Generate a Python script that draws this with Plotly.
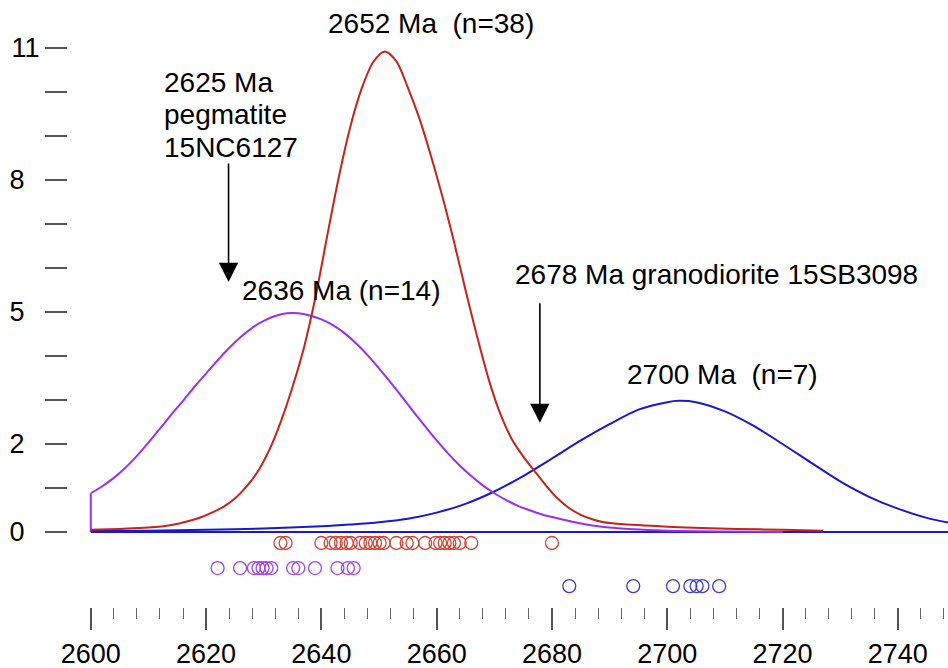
import plotly.graph_objects as go

# ---------------- data ----------------
# Probability density curves (age in Ma, relative probability)
red_x = [2600, 2605, 2610, 2614, 2617, 2619, 2621, 2623, 2625, 2627, 2629, 2631, 2633,
         2635, 2637, 2639, 2641, 2643, 2645, 2647, 2649, 2651, 2653, 2655, 2657, 2659,
         2661, 2663, 2665, 2667, 2669, 2671, 2673, 2675, 2677, 2679, 2681, 2683, 2685,
         2687, 2689, 2692, 2696, 2700, 2706, 2712, 2720, 2727]
red_y = [0.05, 0.07, 0.10, 0.16, 0.25, 0.33, 0.44, 0.57, 0.76, 1.03, 1.38, 1.87, 2.52,
         3.30, 4.20, 5.35, 6.72, 8.05, 9.20, 10.08, 10.68, 10.92, 10.70, 10.10, 9.40, 8.55,
         7.62, 6.60, 5.50, 4.45, 3.48, 2.70, 2.12, 1.72, 1.38, 1.05, 0.76, 0.54, 0.39,
         0.29, 0.22, 0.18, 0.15, 0.12, 0.09, 0.07, 0.05, 0.03]

purple_x = [2600, 2602, 2604, 2606, 2608, 2610, 2612, 2614, 2616, 2618, 2620, 2622, 2624,
            2626, 2628, 2630, 2632, 2634, 2636, 2638, 2640, 2642, 2644, 2646, 2648, 2650,
            2652, 2654, 2656, 2658, 2660, 2662, 2664, 2666, 2668, 2670, 2672, 2674, 2676,
            2678, 2680, 2682, 2684, 2686, 2688, 2690, 2694, 2700, 2710, 2720]
purple_y = [0.88, 1.04, 1.23, 1.46, 1.73, 2.03, 2.35, 2.67, 2.98, 3.30, 3.60, 3.90, 4.18,
            4.43, 4.64, 4.80, 4.91, 4.97, 4.97, 4.92, 4.83, 4.70, 4.52, 4.29, 4.02, 3.72,
            3.40, 3.07, 2.73, 2.40, 2.08, 1.78, 1.51, 1.27, 1.06, 0.88, 0.73, 0.60, 0.50,
            0.41, 0.34, 0.28, 0.22, 0.17, 0.13, 0.10, 0.06, 0.03, 0.01, 0.0]

blue_x = [2600, 2610, 2620, 2630, 2640, 2645, 2650, 2655, 2660, 2665, 2670, 2675, 2680,
          2685, 2690, 2695, 2700, 2702, 2705, 2710, 2715, 2720, 2725, 2730, 2735, 2740,
          2745, 2750]
blue_y = [0.02, 0.03, 0.05, 0.08, 0.13, 0.17, 0.22, 0.30, 0.44, 0.64, 0.92, 1.27, 1.67,
          2.08, 2.45, 2.78, 2.95, 2.98, 2.95, 2.74, 2.41, 2.00, 1.57, 1.15, 0.80, 0.53,
          0.32, 0.18]

# individual analyses (ages, Ma)
red_ages = [2632.9, 2633.8, 2640.0, 2641.6, 2642.5, 2643.4, 2644.4, 2645.1, 2646.7,
            2647.7, 2648.5, 2649.3, 2650.1, 2650.8, 2653.0, 2654.8, 2655.8, 2658.0,
            2659.8, 2660.6, 2661.4, 2662.2, 2663.0, 2664.0, 2666.0, 2680.0]
purple_ages = [2622.0, 2625.9, 2628.3, 2629.1, 2629.8, 2630.5, 2631.3, 2635.1, 2636.0,
               2638.9, 2642.8, 2644.6, 2645.6]
blue_ages = [2683.0, 2694.1, 2701.0, 2704.0, 2705.1, 2706.1, 2709.0]
row_level = {"red": -0.25, "purple": -0.82, "blue": -1.23}

x_tick_vals = [2600, 2620, 2640, 2660, 2680, 2700, 2720, 2740]
x_tick_text = ["2600", "2620", "2640", "2660", "2680", "2700", "2720", "2740"]
y_tick_vals = [0, 1, 2, 3, 4, 5, 6, 7, 8, 9, 10, 11]
y_tick_text = ["0", "", "2", "", "", "5", "", "", "8", "", "", "11"]

labels = [  # text, x, y, xanchor
    ("2652 Ma  (n=38)", 2659.0, 11.55, "center"),
    ("2625 Ma", 2612.3, 10.22, "left"),
    ("pegmatite", 2612.3, 9.48, "left"),
    ("15NC6127", 2612.3, 8.74, "left"),
    ("2636 Ma (n=14)", 2643.4, 5.48, "center"),
    ("2678 Ma granodiorite 15SB3098", 2708.6, 5.86, "center"),
    ("2700 Ma  (n=7)", 2709.6, 3.59, "center"),
]
arrows = [  # x, tail y, tip y
    (2623.9, 8.41, 5.68),
    (2677.9, 5.23, 2.48),
]

# ---------------- styling ----------------
RED, PURPLE, BLUE = "#C4241A", "#9A30EE", "#1818D2"
RED_M, PURPLE_M, BLUE_M = "#D04535", "#A046EA", "#3C3CD8"
FONT = "Arial, Liberation Sans, sans-serif"

fig = go.Figure()

# baseline
fig.add_trace(go.Scatter(x=[blue_x[0], blue_x[-1]], y=[0, 0], mode="lines",
                         line=dict(color=BLUE, width=2), hoverinfo="skip"))
# purple vertical start (curve clipped at 2600)
fig.add_trace(go.Scatter(x=[purple_x[0], purple_x[0]], y=[0, purple_y[0]], mode="lines",
                         line=dict(color=PURPLE, width=2), hoverinfo="skip"))
for xs, ys, c in [(blue_x, blue_y, BLUE), (purple_x, purple_y, PURPLE), (red_x, red_y, RED)]:
    fig.add_trace(go.Scatter(x=xs, y=ys, mode="lines",
                             line=dict(color=c, width=2, shape="spline", smoothing=0.8),
                             hoverinfo="skip"))

for ages, key, c in [(red_ages, "red", RED_M), (purple_ages, "purple", PURPLE_M),
                     (blue_ages, "blue", BLUE_M)]:
    fig.add_trace(go.Scatter(x=ages, y=[row_level[key]] * len(ages), mode="markers",
                             marker=dict(symbol="circle-open", size=13, color=c,
                                         line=dict(width=1.3, color=c)),
                             hoverinfo="skip"))

for text, x, y, xa in labels:
    fig.add_annotation(x=x, y=y, text=text, showarrow=False, xanchor=xa, yanchor="middle",
                       font=dict(family=FONT, size=28, color="black"))
for x, y0, y1 in arrows:
    fig.add_annotation(x=x, y=y1, ax=x, ay=y0, axref="x", ayref="y", text="",
                       showarrow=True, arrowhead=2, arrowsize=2.4, arrowwidth=1.6,
                       arrowcolor="black")

fig.update_layout(
    width=948, height=668, autosize=False,
    margin=dict(l=68, r=0, t=0, b=61, autoexpand=False),
    paper_bgcolor="white", plot_bgcolor="white",
    showlegend=False,
    font=dict(family=FONT, color="black"),
    xaxis=dict(range=[2596.05, 2748.7], showgrid=False, zeroline=False, showline=False,
               automargin=False,
               tickmode="array", tickvals=x_tick_vals, ticktext=x_tick_text,
               ticks="outside", ticklen=22, tickwidth=1.5, tickcolor="#555",
               tickfont=dict(family=FONT, size=27, color="black"), ticklabelstandoff=1,
               minor=dict(dtick=4, tick0=2600, ticks="outside", ticklen=11,
                          tickwidth=1.2, tickcolor="#666")),
    yaxis=dict(range=[-1.705, 12.09], showgrid=False, zeroline=False, showline=False,
               automargin=False,
               tickmode="array", tickvals=y_tick_vals,
               ticktext=[t + "\u2007" if len(t) == 1 else t for t in y_tick_text],
               ticks="outside", ticklen=22, tickwidth=1.5, tickcolor="#555",
               tickfont=dict(family=FONT, size=27, color="black"), ticklabelstandoff=0),
)

fig.write_html("out.html")
